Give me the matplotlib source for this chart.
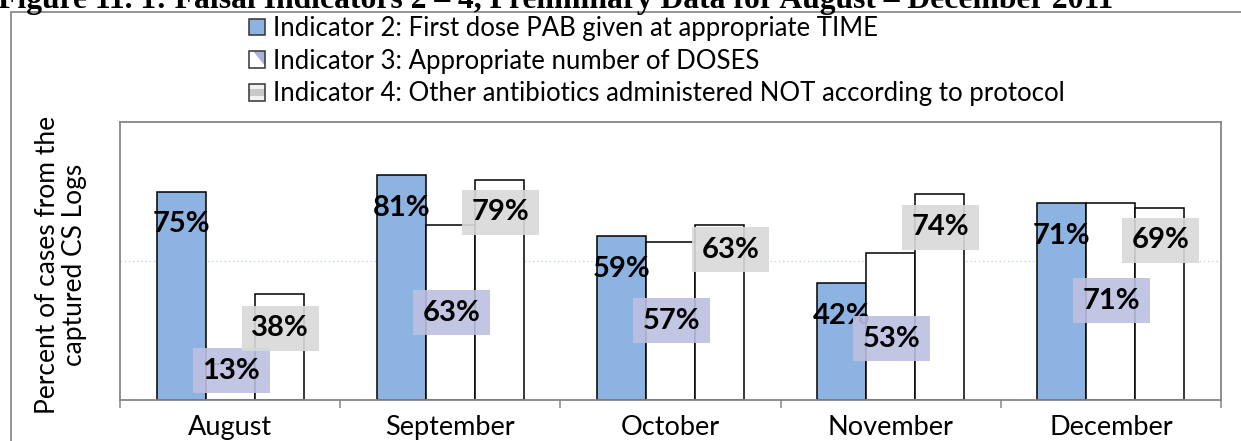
import numpy as np
import matplotlib
matplotlib.use('Agg')
import matplotlib.pyplot as plt
from matplotlib.patches import Rectangle, Polygon, Patch
from matplotlib.legend_handler import HandlerBase

# Data
months = ['August', 'September', 'October', 'November', 'December']
ind2_time = [0.75, 0.81, 0.59, 0.42, 0.71]
ind3_doses = [0.13, 0.63, 0.57, 0.53, 0.71]
ind4_other = [0.38, 0.79, 0.63, 0.74, 0.69]
series_names = ['Indicator 2: First dose PAB given at appropriate TIME',
                'Indicator 3: Appropriate number of DOSES',
                'Indicator 4: Other antibiotics administered NOT according to protocol']
title = 'Figure 11. 1: Faisal Indicators 2 \u2013 4, Preliminary Data for August \u2013 December 2011'
y_label = 'Percent of cases from the\ncaptured CS Logs'

W, H = 1241, 441
plt.rcParams['font.family'] = ['Lato', 'DejaVu Sans']

fig = plt.figure(figsize=(W / 100, H / 100), dpi=100)
ax = fig.add_axes([120 / W, 41 / H, 1101 / W, 278 / H])

blue = '#8db3e2'
grey_edge = '#868686'
bw = 0.2225
x = np.arange(len(months))

bars2 = ax.bar(x - bw, ind2_time, bw, color=blue, edgecolor='black', linewidth=1.1, zorder=2)
bars3 = ax.bar(x, ind3_doses, bw, color='white', edgecolor='black', linewidth=1.1, zorder=2)
bars4 = ax.bar(x + bw, ind4_other, bw, color='white', edgecolor='black', linewidth=1.1, zorder=2)

ax.set_xlim(-0.5, len(months) - 0.5)
ax.set_ylim(0, 1.0)

# only one dotted gridline at 50%
ax.set_yticks([0.5])
ax.yaxis.grid(True, linestyle=(0, (1, 2)), color='#c3d2ea', linewidth=1)
ax.tick_params(axis='y', length=0, labelleft=False)

ax.set_xticks(x)
ax.set_xticklabels(months, fontsize=19.5)
ax.set_xticks(np.arange(-0.5, len(months)), minor=True)
ax.tick_params(axis='x', which='major', length=0, pad=11)
ax.tick_params(axis='x', which='minor', length=6, width=1.1, color=grey_edge, direction='out')

for sp in ax.spines.values():
    sp.set_color(grey_edge)
    sp.set_linewidth(1.3)

# data labels, positions as Excel left them (offsets in pixels below bar top)
lbl_font = dict(fontsize=21, fontweight='bold', ha='center', va='center', zorder=5)
off2 = [33, 33, 33, 33, 33]
off3 = [7, 88, 79, 86, 98]
off4 = [34, 32, 25, 33, 32]
dx4 = [1, 1, 11, 1, 1]

for b, v, dy in zip(bars2, ind2_time, off2):
    ax.annotate(f'{v:.0%}', xy=(b.get_x() + b.get_width() / 2, v), xytext=(0, -dy),
                textcoords='offset pixels', **lbl_font)
for b, v, dy in zip(bars3, ind3_doses, off3):
    ax.annotate(f'{v:.0%}', xy=(b.get_x() + b.get_width() / 2, v), xytext=(1, -dy),
                textcoords='offset pixels',
                bbox=dict(boxstyle='square,pad=0.33', fc='#bcc0df', ec='none', alpha=0.9), **lbl_font)
for b, v, dy, dx in zip(bars4, ind4_other, off4, dx4):
    ax.annotate(f'{v:.0%}', xy=(b.get_x() + b.get_width() / 2, v), xytext=(dx, -dy),
                textcoords='offset pixels',
                bbox=dict(boxstyle='square,pad=0.33', fc='#d9d9d9', ec='none', alpha=0.9), **lbl_font)


# legend swatches like the Excel ones
class Swatch(HandlerBase):
    def __init__(self, kind):
        super().__init__()
        self.kind = kind

    def create_artists(self, legend, orig_handle, xd, yd, w, h, fontsize, trans):
        x0, y0 = -xd, -yd
        out = [Rectangle((x0, y0), w, h, fc=orig_handle.get_facecolor(), ec='none', transform=trans)]
        if self.kind == 'diag':
            out.append(Polygon([[x0 + w * 0.25, y0 + h], [x0 + w, y0 + h], [x0 + w, y0 + h * 0.1]],
                               closed=True, fc='#aab0dc', ec='none', transform=trans))
        elif self.kind == 'band':
            out.append(Rectangle((x0, y0 + h * 0.3), w, h * 0.4, fc='#c8c8c8', ec='none', transform=trans))
        out.append(Rectangle((x0, y0), w, h, fill=False, ec='#333333', lw=1.1, transform=trans))
        return out


h2 = Patch(facecolor=blue)
h3 = Patch(facecolor='white')
h4 = Patch(facecolor='#f2f2f2')
fig.legend([h2, h3, h4], series_names, loc='upper left', bbox_to_anchor=(249 / W, 1 - 16 / H),
           frameon=False, fontsize=18.5, handlelength=0.62, handleheight=0.62, handletextpad=0.3,
           labelspacing=0.3, borderpad=0, borderaxespad=0,
           handler_map={h2: Swatch('plain'), h3: Swatch('diag'), h4: Swatch('band')})

fig.text(61 / W, 1 - 265 / H, y_label, rotation=90, ha='center', va='center',
         multialignment='center', fontsize=19, linespacing=1.1)

# figure caption above, cut off by the crop
fig.text(-2 / W, 1 - 8 / H, title, ha='left', va='baseline', fontsize=22.8, fontweight='bold',
         family='Liberation Serif')

# outer chart frame (runs off the right and bottom of the picture)
fig.add_artist(Rectangle((11 / W, -0.1), 1.2, 1.1 - 12 / H, transform=fig.transFigure,
                         fill=False, ec='#8c8c8c', lw=1.3))

fig.savefig('out.png', dpi=100)
